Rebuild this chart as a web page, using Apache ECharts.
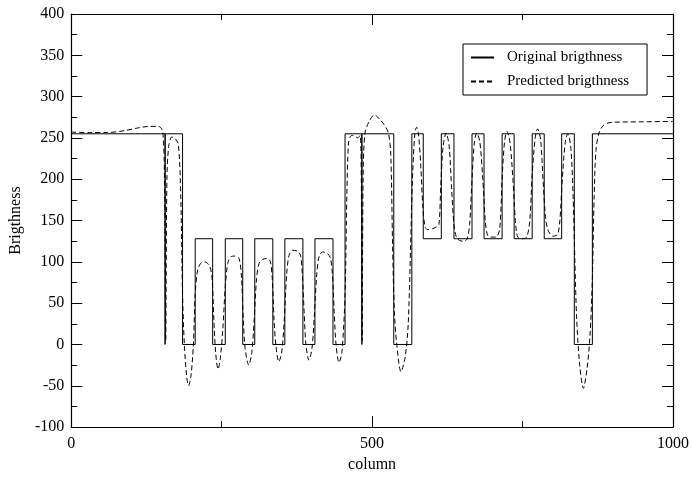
<!DOCTYPE html>
<html>
<head>
<meta charset="utf-8">
<script src="https://cdn.jsdelivr.net/npm/echarts@6/dist/echarts.min.js"></script>
<style>
  html, body { margin: 0; padding: 0; background: #fff; }
  #chart { width: 692px; height: 478px; }
</style>
</head>
<body>
<div id="chart"></div>
<script>
// original signal, step edges (column, brightness)
var origX = [0, 156, 156, 156, 185, 185, 206, 206, 235, 235, 256, 256, 285, 285, 305, 305, 335, 335,
  355, 355, 385, 385, 405, 405, 435, 435, 455, 455, 483, 483, 483, 536, 536, 566, 566,
  585, 585, 615, 615, 636, 636, 666, 666, 686, 686, 716, 716, 736, 736, 766, 766,
  786, 786, 815, 815, 836, 836, 866, 866, 1000]
var origY = [255, 255, 0, 255, 255, 0, 0, 128, 128, 0, 0, 128, 128, 0, 0, 128, 128, 0,
  0, 128, 128, 0, 0, 128, 128, 0, 0, 255, 255, 0, 255, 255, 0, 0, 255,
  255, 128, 128, 255, 255, 128, 128, 255, 255, 128, 128, 255, 255, 128, 128, 255,
  255, 128, 128, 255, 255, 0, 0, 255, 255]

// predicted signal
var predX = [0, 30, 60, 90, 110, 130, 145, 152, 155, 157, 159, 162, 167, 172, 178, 182, 185, 188, 192, 195,
  199, 203, 206, 210, 215, 222, 230, 234, 237, 240, 244, 248, 252, 256, 260, 265, 272, 279, 283, 286,
  289, 295, 300, 304, 308, 312, 318, 326, 331, 334, 337, 340, 345, 350, 354, 358, 362, 368, 376, 381,
  384, 387, 390, 395, 400, 404, 408, 412, 418, 426, 431, 434, 437, 440, 445, 450, 455, 458, 461, 466,
  472, 476, 480, 482, 483.5, 485, 488, 495, 504, 512, 520, 527, 531, 534, 537, 541, 548, 555, 560, 564,
  567, 571, 574, 577, 581, 584, 588, 593, 600, 606, 611, 614, 618, 623, 628, 632, 636, 640, 645, 652,
  658, 662, 666, 670, 674, 679, 684, 688, 692, 698, 706, 712, 716, 720, 724, 729, 734, 738, 742, 750,
  757, 762, 766, 771, 775, 780, 784, 788, 792, 800, 808, 812, 816, 821, 825, 830, 834, 837, 840, 845,
  851, 857, 862, 866, 869, 872, 877, 884, 892, 900, 950, 1000]
var predY = [257, 256.5, 256.5, 259, 262, 264, 264, 258, 200, 5, 200, 240, 251, 250, 242, 180, 60, 0, -40, -50,
  -38, 0, 60, 90, 98, 100, 95, 80, 30, -10, -30, -15, 20, 70, 98, 106, 107, 104, 80, 30,
  -5, -25, -10, 30, 80, 98, 103, 104, 100, 80, 30, 0, -21, -8, 30, 85, 108, 114, 113, 108,
  85, 40, 0, -19, -5, 35, 85, 107, 112, 110, 104, 85, 40, 0, -22, -8, 60, 180, 245, 253,
  252, 250, 253, 200, 5, 200, 255, 270, 278, 273, 266, 256, 230, 120, 40, 0, -33, -15, 25, 120,
  200, 255, 263, 255, 215, 170, 142, 139, 140, 142, 145, 190, 240, 256, 240, 190, 145, 130, 126, 125,
  128, 145, 200, 245, 256, 245, 200, 150, 132, 130, 130, 140, 200, 245, 258, 245, 200, 150, 130, 128,
  130, 150, 205, 250, 261, 248, 200, 155, 139, 131, 133, 150, 200, 245, 255, 240, 180, 100, 30, -25,
  -53, -30, 10, 80, 180, 235, 256, 265, 268, 269, 269.5, 270]

var xTicks = { min: 0, max: 1000, interval: 500 }
var yTicks = { min: -100, max: 400, interval: 50 }

function pairs(xs, ys) {
  return xs.map(function (x, i) { return [x, ys[i]] })
}

var font = 'Liberation Serif'
var tickStyle = { inside: true, length: 11, lineStyle: { color: '#000', width: 1 } }
var minorStyle = { show: true, splitNumber: 2, length: 6, lineStyle: { color: '#000', width: 1 } }
var lineStyle = { color: '#000', width: 1.2 }

var chart = echarts.init(document.getElementById('chart'))
chart.setOption({
  animation: false,
  textStyle: { fontFamily: font, color: '#000' },
  grid: { left: 70.5, right: 17, top: 14, bottom: 41 },
  legend: {
    data: ['Original brigthness', 'Predicted brigthness'],
    orient: 'vertical',
    left: 463,
    top: 44,
    padding: [6, 18, 6, 7],
    itemWidth: 23,
    itemHeight: 14,
    itemGap: 9,
    itemStyle: { opacity: 0 },
    borderColor: '#000',
    borderWidth: 1,
    borderRadius: 0,
    textStyle: { fontFamily: font, fontSize: 15, color: '#000', padding: [0, 0, 0, 8] }
  },
  xAxis: [
    {
      type: 'value', min: xTicks.min, max: xTicks.max, interval: xTicks.interval,
      name: 'column', nameLocation: 'middle', nameGap: 28,
      nameTextStyle: { fontFamily: font, fontSize: 16, color: '#000' },
      axisLine: { onZero: false, lineStyle: lineStyle },
      axisTick: tickStyle, minorTick: minorStyle,
      axisLabel: {
        fontFamily: font, fontSize: 16, color: '#000', margin: 9,
        formatter: function (v) { return String(v) }
      },
      splitLine: { show: false }
    },
    {
      type: 'value', position: 'top', min: xTicks.min, max: xTicks.max, interval: xTicks.interval,
      axisLine: { onZero: false, lineStyle: lineStyle },
      axisTick: tickStyle, minorTick: minorStyle,
      axisLabel: { show: false }, splitLine: { show: false }
    }
  ],
  yAxis: [
    {
      type: 'value', min: yTicks.min, max: yTicks.max, interval: yTicks.interval,
      name: 'Brigthness', nameLocation: 'middle', nameGap: 41,
      nameTextStyle: { fontFamily: font, fontSize: 16, color: '#000' },
      axisLine: { onZero: false, lineStyle: lineStyle },
      axisTick: tickStyle, minorTick: minorStyle,
      axisLabel: { fontFamily: font, fontSize: 16, color: '#000', margin: 7 },
      splitLine: { show: false }
    },
    {
      type: 'value', position: 'right', min: yTicks.min, max: yTicks.max, interval: yTicks.interval,
      axisLine: { onZero: false, lineStyle: lineStyle },
      axisTick: tickStyle, minorTick: minorStyle,
      axisLabel: { show: false }, splitLine: { show: false }
    }
  ],
  series: [
    {
      name: 'Original brigthness',
      type: 'line',
      symbol: 'none',
      lineStyle: { color: '#000', width: 1 },
      itemStyle: { color: '#000' },
      data: pairs(origX, origY)
    },
    {
      name: 'Predicted brigthness',
      type: 'line',
      symbol: 'none',
      smooth: 0.3,
      lineStyle: { color: '#000', width: 1, type: [5, 3] },
      itemStyle: { color: '#000' },
      data: pairs(predX, predY)
    }
  ]
})
</script>
</body>
</html>
